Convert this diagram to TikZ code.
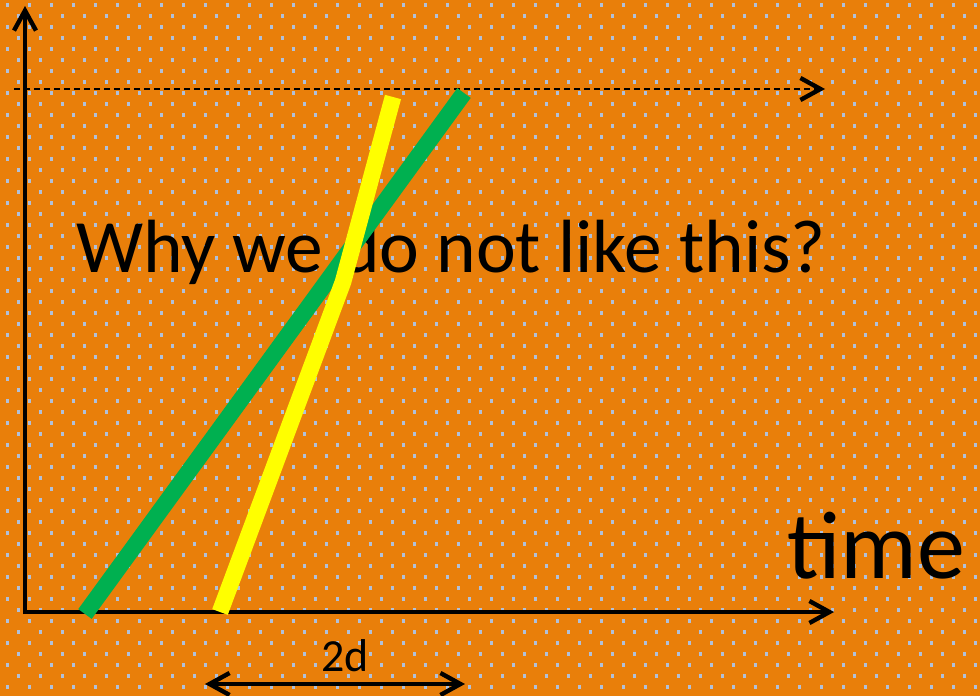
\documentclass[tikz,border=0pt]{standalone}
\usepackage{fontspec}
\setmainfont{Carlito}
\usepackage{xcolor}
\usetikzlibrary{arrows.meta}
\definecolor{bgorange}{RGB}{233,127,10}
\definecolor{dotblue}{RGB}{176,192,218}
\definecolor{lgreen}{RGB}{0,176,80}
\definecolor{lyellow}{RGB}{255,255,0}

\begin{document}
\begin{tikzpicture}[x=0.5pt, y=-0.5pt,
  axis/.style={line width=2pt, -{Straight Barb[length=10pt, width=11pt, line width=2.2pt]}},
  guide/.style={line width=0.75pt, dash pattern=on 3pt off 2pt,
                -{Straight Barb[length=10pt, width=11pt, line width=2.2pt]}},
  span/.style={line width=2pt,
               {Straight Barb[length=10pt, width=11pt, line width=2.2pt]}-{Straight Barb[length=10pt, width=11pt, line width=2.2pt]}},
  bar/.style={line width=8.3pt, line cap=butt, line join=miter},
  dotrow/.style={dotblue, line width=1.6pt, dash pattern=on 1.6pt off 9.4pt}]
% background with dotted texture
\fill[bgorange] (0,0) rectangle (980,696);
\useasboundingbox (0,0) rectangle (980,696);
\foreach \r in {0,...,63}{
  \pgfmathsetmacro\yy{5+11*\r}
  \pgfmathsetmacro\xx{isodd(\r)?17:6}
  \draw[dotrow] (\xx,\yy) -- (980,\yy);
}
% axes
\coordinate (o) at (25,612);
\coordinate (ytop) at (25,6);
\coordinate (xend) at (834,612);
\coordinate (oy) at (25,614);
\draw[axis] (oy) -- (ytop);
\draw[axis] (o) -- (xend);
\coordinate (gl) at (14,89);
\coordinate (gr) at (825,89);
\draw[guide] (gl) -- (gr);
% labels
\node[anchor=base, font=\fontsize{37.7}{40}\selectfont] (why) at (451,272) {Why we do not like this?};
\node[anchor=base, font=\fontsize{48}{52}\selectfont] (time) at (876,578) {time};
\node[anchor=base, font=\fontsize{23}{26}\selectfont] (twod) at (345,671) {2d};
% two lines
\coordinate (g0) at (85,614);
\coordinate (g1) at (464,93);
\coordinate (y0) at (220,612);
\coordinate (yk) at (343,282);
\coordinate (y1) at (393,97);
\draw[bar, lgreen] (g0) -- (g1);
\draw[bar, lyellow] (y0) -- (yk) -- (y1);
% width marker
\coordinate (sa) at (205,684);
\coordinate (sb) at (465,684);
\draw[span] (sa) -- (sb);
\end{tikzpicture}
\end{document}
